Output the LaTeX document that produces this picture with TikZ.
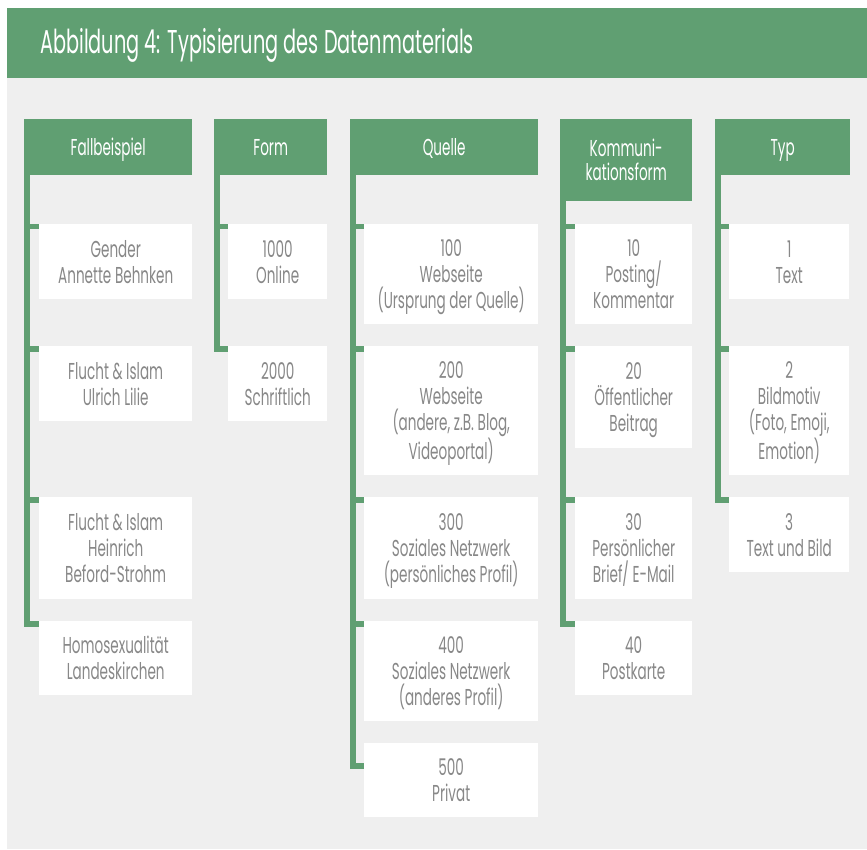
\documentclass[tikz,border=0pt]{standalone}
\usepackage{fontspec}
\setmainfont{Poppins}[FakeStretch=0.59]
\newfontfamily\titelfont{Poppins}[FakeStretch=0.585]
\usetikzlibrary{calc}
\definecolor{gruen}{HTML}{609F72}
\definecolor{hellgrau}{HTML}{EFEFEF}
\definecolor{textgrau}{HTML}{888888}
\tikzset{
  head/.style={fill=gruen, text=white, anchor=north west, inner sep=0, text depth=0pt, align=center, font=\fontsize{23}{24}\selectfont},
  item/.style={fill=white, text=textgrau, anchor=north west, inner sep=0, text depth=0pt, align=center, font=\fontsize{23}{26}\selectfont},
  bar/.style={draw=gruen, line width=5.5pt},
}
\begin{document}
\begin{tikzpicture}[x=1pt, y=-1pt]
\useasboundingbox (0,0) rectangle (867,850);
\fill[hellgrau] (7,8) rectangle (867,849);
\fill[gruen] (7,8) rectangle (867,78);
\node[anchor=west, inner sep=0, text=white, font=\titelfont\fontsize{33}{33}\selectfont] (titel) at (40,45) {Abbildung 4: Typisierung des Datenmaterials};
% Kopfzeilen
\node[head, minimum width=168pt, minimum height=56pt] (fb) at (24,119) {Fallbeispiel};
\node[head, minimum width=113pt, minimum height=56pt] (fo) at (214,119) {Form};
\node[head, minimum width=188pt, minimum height=56pt] (q) at (350,119) {Quelle};
\node[head, minimum width=132pt, minimum height=82pt] (k) at (560,119) {Kommuni-\\kationsform};
\node[head, minimum width=135pt, minimum height=56pt] (t) at (715,119) {Typ};
% Fallbeispiel
\node[item, minimum width=153pt, minimum height=75pt] (fb1) at (39,224) {Gender\\Annette Behnken};
\node[item, minimum width=153pt, minimum height=75pt] (fb2) at (39,346) {Flucht \& Islam\\Ulrich Lilie};
\node[item, minimum width=153pt, minimum height=102pt] (fb3) at (39,497) {Flucht \& Islam\\Heinrich\\Beford-Strohm};
\node[item, minimum width=153pt, minimum height=74pt] (fb4) at (39,621) {Homosexualität\\Landeskirchen};
% Form
\node[item, minimum width=99pt, minimum height=75pt] (fo1) at (228,224) {1000\\Online};
\node[item, minimum width=99pt, minimum height=75pt] (fo2) at (228,346) {2000\\Schriftlich};
% Quelle
\node[item, minimum width=174pt, minimum height=100pt] (q1) at (364,224) {100\\Webseite\\(Ursprung der Quelle)};
\node[item, minimum width=174pt, minimum height=129pt] (q2) at (364,346) {200\\Webseite\\(andere, z.B. Blog,\\Videoportal)};
\node[item, minimum width=174pt, minimum height=102pt] (q3) at (364,497) {300\\Soziales Netzwerk\\(persönliches Profil)};
\node[item, minimum width=174pt, minimum height=100pt] (q4) at (364,621) {400\\Soziales Netzwerk\\(anderes Profil)};
\node[item, minimum width=174pt, minimum height=74pt] (q5) at (364,743) {500\\Privat};
% Kommunikationsform
\node[item, minimum width=117pt, minimum height=100pt] (k1) at (575,224) {10\\Posting/\\Kommentar};
\node[item, minimum width=117pt, minimum height=102pt] (k2) at (575,346) {20\\Öffentlicher\\Beitrag};
\node[item, minimum width=117pt, minimum height=102pt] (k3) at (575,497) {30\\Persönlicher\\Brief/ E-Mail};
\node[item, minimum width=117pt, minimum height=74pt] (k4) at (575,621) {40\\Postkarte};
% Typ
\node[item, minimum width=120pt, minimum height=75pt] (t1) at (729,224) {1\\Text};
\node[item, minimum width=120pt, minimum height=129pt] (t2) at (729,346) {2\\Bildmotiv\\(Foto, Emoji,\\Emotion)};
\node[item, minimum width=120pt, minimum height=75pt] (t3) at (729,497) {3\\Text und Bild};
% Leisten
\foreach \h/\kids/\last in {fb/{fb1,fb2,fb3}/fb4, fo/{fo1}/fo2, q/{q1,q2,q3,q4}/q5, k/{k1,k2,k3}/k4, t/{t1,t2}/t3} {
  \foreach \c in \kids {
    \draw[bar] ([xshift=2.75pt,yshift=-2.75pt]\h.south west |- \c.north west) -- ([yshift=-2.75pt]\c.north west);
  }
}
\draw[bar] ([xshift=2.75pt]fb.south west) |- ([yshift=-2.75pt]fb4.north west);
\draw[bar] ([xshift=2.75pt]fo.south west) |- ([yshift=-2.75pt]fo2.north west);
\draw[bar] ([xshift=2.75pt]q.south west) |- ([yshift=-22.75pt]q5.north west);
\draw[bar] ([xshift=2.75pt]k.south west) |- ([yshift=-2.75pt]k4.north west);
\draw[bar] ([xshift=2.75pt]t.south west) |- ([yshift=-2.75pt]t3.north west);
\end{tikzpicture}
\end{document}
